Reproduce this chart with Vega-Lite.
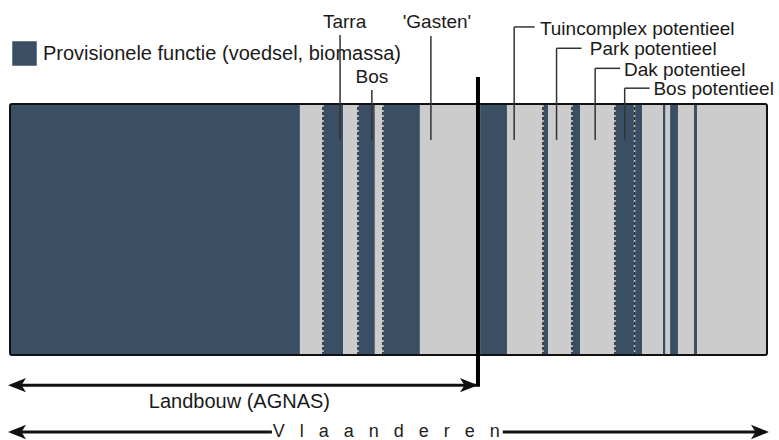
{
  "$schema": "https://vega.github.io/schema/vega-lite/v6.json",
  "width": 779,
  "height": 440,
  "autosize": {"type": "none"},
  "padding": 0,
  "background": "white",
  "config": {"view": {"stroke": null}, "axis": {"disable": true}},
  "datasets": {
    "segments": [
      {"start": 0, "end": 38.3, "type": "Provisionele functie (voedsel, biomassa)"},
      {"start": 38.3, "end": 41.35, "type": "Overig"},
      {"start": 41.35, "end": 44.0, "type": "Provisionele functie (voedsel, biomassa)"},
      {"start": 44.0, "end": 45.97, "type": "Overig"},
      {"start": 45.97, "end": 48.2, "type": "Provisionele functie (voedsel, biomassa)"},
      {"start": 48.2, "end": 49.27, "type": "Overig"},
      {"start": 49.27, "end": 54.15, "type": "Provisionele functie (voedsel, biomassa)"},
      {"start": 54.15, "end": 62.1, "type": "Overig"},
      {"start": 62.1, "end": 65.65, "type": "Provisionele functie (voedsel, biomassa)"},
      {"start": 65.65, "end": 70.41, "type": "Overig"},
      {"start": 70.41, "end": 71.07, "type": "Provisionele functie (voedsel, biomassa)"},
      {"start": 71.07, "end": 74.24, "type": "Overig"},
      {"start": 74.24, "end": 75.3, "type": "Provisionele functie (voedsel, biomassa)"},
      {"start": 75.3, "end": 79.92, "type": "Overig"},
      {"start": 79.92, "end": 83.5, "type": "Provisionele functie (voedsel, biomassa)"},
      {"start": 83.5, "end": 86.26, "type": "Overig"},
      {"start": 86.26, "end": 86.6, "type": "Provisionele functie (voedsel, biomassa)"},
      {"start": 86.6, "end": 87.2, "type": "Overig"},
      {"start": 87.2, "end": 88.24, "type": "Provisionele functie (voedsel, biomassa)"},
      {"start": 88.24, "end": 90.36, "type": "Overig"},
      {"start": 90.36, "end": 90.75, "type": "Provisionele functie (voedsel, biomassa)"},
      {"start": 90.75, "end": 100, "type": "Overig"}
    ],
    "dashes": [{"x": 41.35}, {"x": 45.97}, {"x": 49.27}, {"x": 70.41}, {"x": 74.24}, {"x": 79.92}, {"x": 82.5}],
    "leaders": [
      {"label": "Tarra", "x": 43.6, "top": 127.5, "bottom": 85.7},
      {"label": "Bos", "x": 47.8, "top": 105.6, "bottom": 85.7},
      {"label": "'Gasten'", "x": 55.6, "top": 127.1, "bottom": 85.7},
      {"label": "Tuincomplex potentieel", "x": 66.6, "top": 130.7, "bottom": 85.7},
      {"label": "Park potentieel", "x": 72.2, "top": 122.2, "bottom": 85.7},
      {"label": "Dak potentieel", "x": 77.3, "top": 114.2, "bottom": 85.7},
      {"label": "Bos potentieel", "x": 81.2, "top": 106.3, "bottom": 85.7}
    ],
    "elbows": [
      {"x": 66.6, "x2": 69.3, "y": 130.7},
      {"x": 72.2, "x2": 75.5, "y": 122.2},
      {"x": 77.3, "x2": 80.6, "y": 114.2},
      {"x": 81.2, "x2": 84.5, "y": 106.3}
    ],
    "labelsCenter": [
      {"label": "Tarra", "x": 44.2, "y": 132.8},
      {"label": "'Gasten'", "x": 56.4, "y": 132.8},
      {"label": "Bos", "x": 47.8, "y": 110.6}
    ],
    "scopeLabel": [
      {"label": "Landbouw (AGNAS)", "x": 30.3, "y": -18.6}
    ],
    "labelsLeft": [
      {"label": "Tuincomplex potentieel", "x": 70.0, "y": 129.8},
      {"label": "Park potentieel", "x": 76.6, "y": 121.8},
      {"label": "Dak potentieel", "x": 81.1, "y": 113.5},
      {"label": "Bos potentieel", "x": 85.0, "y": 105.8}
    ],
    "divider": [{"x": 61.82, "top": 110.8, "bottom": -12.6}],
    "shafts": [
      {"x": 0.4, "x2": 61.6, "y": -12.0},
      {"x": 0.4, "x2": 34.6, "y": -30.7},
      {"x": 65.1, "x2": 99.8, "y": -30.7}
    ],
    "heads": [
      {"x": 0.925, "y": -12.0, "dir": "left"},
      {"x": 60.63, "y": -12.0, "dir": "right"},
      {"x": 0.925, "y": -30.7, "dir": "left"},
      {"x": 99.07, "y": -30.7, "dir": "right"}
    ],
    "region": [{"label": "V\u00a0\u00a0\u00a0l\u00a0\u00a0\u00a0a\u00a0\u00a0\u00a0a\u00a0\u00a0\u00a0n\u00a0\u00a0\u00a0d\u00a0\u00a0\u00a0e\u00a0\u00a0\u00a0r\u00a0\u00a0\u00a0e\u00a0\u00a0\u00a0n", "x": 49.7, "y": -30.7}],
    "outline": [{"s": 0, "e": 100}]
  },
  "layer": [
    {
      "data": {"name": "segments"},
      "mark": {"type": "rect"},
      "encoding": {
        "x": {"field": "start", "type": "quantitative", "scale": {"domain": [-1.321, 101.585], "nice": false, "zero": false}, "axis": null},
        "x2": {"field": "end"},
        "y": {"datum": 0, "type": "quantitative", "scale": {"domain": [-33.86, 141.43], "nice": false, "zero": false}, "axis": null},
        "y2": {"datum": 100},
        "color": {
          "field": "type", "type": "nominal",
          "scale": {"domain": ["Provisionele functie (voedsel, biomassa)", "Overig"], "range": ["#3a4f63", "#cbcccb"]},
          "legend": {"values": ["Provisionele functie (voedsel, biomassa)"], "orient": "none", "legendX": 12, "legendY": 41, "title": null, "symbolType": "square", "symbolSize": 600, "symbolStrokeWidth": 0, "symbolOpacity": 1, "labelFontSize": 20, "labelFont": "Liberation Sans", "labelColor": "#1a1a1a", "labelLimit": 0, "padding": 0, "labelOffset": 6}
        }
      }
    },
    {
      "data": {"name": "dashes"},
      "mark": {"type": "rule", "stroke": "#bdbdbd", "strokeWidth": 1.6},
      "encoding": {"x": {"field": "x", "type": "quantitative"}, "y": {"datum": 0, "type": "quantitative"}, "y2": {"datum": 100}}
    },
    {
      "data": {"name": "dashes"},
      "mark": {"type": "rule", "stroke": "#1c2b38", "strokeWidth": 1.6, "strokeDash": [3, 2]},
      "encoding": {"x": {"field": "x", "type": "quantitative"}, "y": {"datum": 0, "type": "quantitative"}, "y2": {"datum": 100}}
    },
    {
      "data": {"name": "outline"},
      "mark": {"type": "rect", "fill": null, "fillOpacity": 0, "stroke": "#111111", "strokeWidth": 2, "cornerRadius": 2},
      "encoding": {"x": {"field": "s", "type": "quantitative"}, "x2": {"field": "e"}, "y": {"datum": 0, "type": "quantitative"}, "y2": {"datum": 100}}
    },
    {
      "data": {"name": "leaders"},
      "mark": {"type": "rule", "stroke": "#333333", "strokeWidth": 1.5},
      "encoding": {"x": {"field": "x", "type": "quantitative"}, "y": {"field": "top", "type": "quantitative"}, "y2": {"field": "bottom"}}
    },
    {
      "data": {"name": "elbows"},
      "mark": {"type": "rule", "stroke": "#333333", "strokeWidth": 1.5},
      "encoding": {"x": {"field": "x", "type": "quantitative"}, "x2": {"field": "x2"}, "y": {"field": "y", "type": "quantitative"}}
    },
    {
      "data": {"name": "divider"},
      "mark": {"type": "rule", "stroke": "#000000", "strokeWidth": 4},
      "encoding": {"x": {"field": "x", "type": "quantitative"}, "y": {"field": "top", "type": "quantitative"}, "y2": {"field": "bottom"}}
    },
    {
      "data": {"name": "shafts"},
      "mark": {"type": "rule", "stroke": "#111111", "strokeWidth": 3},
      "encoding": {"x": {"field": "x", "type": "quantitative"}, "x2": {"field": "x2"}, "y": {"field": "y", "type": "quantitative"}}
    },
    {
      "data": {"name": "heads"},
      "mark": {"type": "point", "filled": true, "size": 324, "opacity": 1, "color": "#111111", "strokeWidth": 0},
      "encoding": {
        "x": {"field": "x", "type": "quantitative"},
        "y": {"field": "y", "type": "quantitative"},
        "shape": {"field": "dir", "type": "nominal", "scale": {"domain": ["left", "right"], "range": ["M-1,0L1,-0.8L0.5,0L1,0.8Z", "M1,0L-1,-0.8L-0.5,0L-1,0.8Z"]}, "legend": null}
      }
    },
    {
      "data": {"name": "labelsCenter"},
      "mark": {"type": "text", "align": "center", "baseline": "middle", "font": "Liberation Sans", "fontSize": 19, "color": "#1a1a1a"},
      "encoding": {"x": {"field": "x", "type": "quantitative"}, "y": {"field": "y", "type": "quantitative"}, "text": {"field": "label"}}
    },
    {
      "data": {"name": "scopeLabel"},
      "mark": {"type": "text", "align": "center", "baseline": "middle", "font": "Liberation Sans", "fontSize": 20, "color": "#1a1a1a"},
      "encoding": {"x": {"field": "x", "type": "quantitative"}, "y": {"field": "y", "type": "quantitative"}, "text": {"field": "label"}}
    },
    {
      "data": {"name": "labelsLeft"},
      "mark": {"type": "text", "align": "left", "baseline": "middle", "font": "Liberation Sans", "fontSize": 19, "color": "#1a1a1a"},
      "encoding": {"x": {"field": "x", "type": "quantitative"}, "y": {"field": "y", "type": "quantitative"}, "text": {"field": "label"}}
    },
    {
      "data": {"name": "region"},
      "mark": {"type": "text", "align": "center", "baseline": "middle", "font": "Liberation Sans", "fontSize": 18, "color": "#222222"},
      "encoding": {"x": {"field": "x", "type": "quantitative"}, "y": {"field": "y", "type": "quantitative"}, "text": {"field": "label"}}
    }
  ]
}
